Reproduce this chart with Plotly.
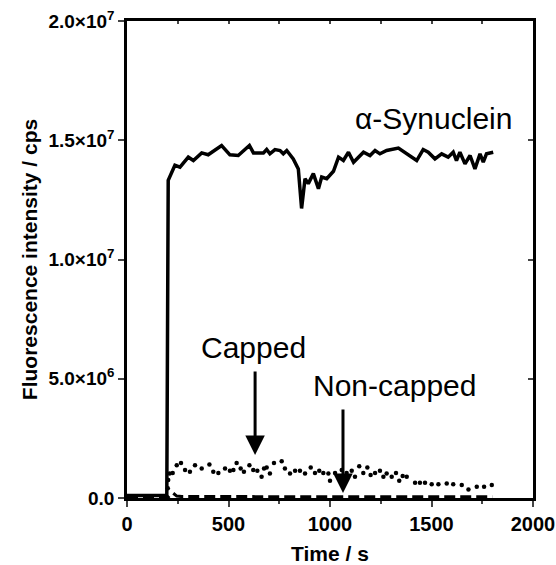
import plotly.graph_objects as go

# alpha-Synuclein (solid line), values in units of 1e6 cps
syn_t = [0, 100, 196, 203, 236, 261, 302, 327, 368, 400, 433, 466, 507, 548, 603, 623, 672, 688, 704,
         729, 754, 770, 787, 819, 844, 860, 877, 893, 918, 943, 959, 984, 1017, 1042, 1066, 1091, 1116,
         1140, 1165, 1197, 1222, 1246, 1279, 1337, 1377, 1427, 1459, 1484, 1517, 1550, 1582, 1607, 1623,
         1640, 1665, 1690, 1714, 1739, 1755, 1771, 1804]
syn_v = [0.1, 0.1, 0.1, 13.32, 13.95, 13.87, 14.29, 14.15, 14.47, 14.39, 14.57, 14.78, 14.39, 14.36,
         14.78, 14.47, 14.47, 14.61, 14.43, 14.61, 14.57, 14.43, 14.57, 14.22, 13.8, 12.14, 13.39, 13.18,
         13.6, 12.97, 13.46, 13.39, 13.7, 14.29, 14.15, 14.5, 14.08, 14.29, 14.5, 14.36, 14.57, 14.43,
         14.57, 14.67, 14.43, 14.15, 14.61, 14.5, 14.22, 14.43, 14.29, 14.5, 14.15, 14.5, 14.01, 14.36,
         13.8, 14.43, 14.08, 14.43, 14.5]

# Capped (dotted)
cap_t = [201, 203, 210, 225, 245, 266, 286, 310, 335, 368, 406, 425, 450, 483, 507, 524, 540, 560, 576,
         603, 622, 642, 663, 675, 688, 704, 724, 762, 778, 803, 828, 852, 877, 905, 926, 947, 967, 992,
         1000, 1025, 1058, 1082, 1107, 1123, 1144, 1164, 1184, 1200, 1222, 1246, 1263, 1279, 1304, 1325,
         1341, 1358, 1378, 1419, 1443, 1468, 1501, 1534, 1575, 1607, 1649, 1682, 1723, 1759, 1797]
cap_v = [0.41, 0.75, 1.03, 1.05, 1.375, 1.47, 1.17, 1.1, 1.375, 1.24, 1.4, 1.1, 1.05, 1.24, 1.14, 1.17,
         1.47, 1.24, 1.1, 1.375, 1.17, 1.14, 0.89, 1.24, 1.28, 1.03, 1.47, 1.54, 1.24, 1.03, 1.14, 1.14,
         1.03, 1.28, 1.05, 1.14, 1.05, 1.03, 0.72, 1.05, 1.17, 1.05, 1.14, 0.89, 1.33, 1.05, 1.28, 0.96,
         1.05, 1.14, 0.89, 1.03, 0.89, 1.05, 0.72, 0.92, 0.89, 0.64, 0.64, 0.64, 0.58, 0.58, 0.61, 0.58,
         0.54, 0.36, 0.47, 0.47, 0.54]

# Non-capped (dashed)
nc_t = [0, 196, 205, 215, 228, 245, 270, 350, 450, 550, 650, 750, 850, 950, 1050, 1150, 1250, 1350,
        1450, 1550, 1650, 1750, 1800]
nc_v = [0.0, 0.0, 0.05, 0.15, 0.2, 0.08, 0.06, 0.06, 0.05, 0.06, 0.05, 0.06, 0.05, 0.06, 0.05, 0.06,
        0.05, 0.06, 0.05, 0.06, 0.05, 0.06, 0.05]

y_tickvals = [0, 5e6, 1e7, 1.5e7, 2e7]
y_ticktext = ["0.0", "5.0×10<sup>6</sup>", "1.0×10<sup>7</sup>", "1.5×10<sup>7</sup>", "2.0×10<sup>7</sup>"]
x_tickvals = [0, 500, 1000, 1500, 2000]

M = 1e6
FONT = "Liberation Sans, Arial, sans-serif"

fig = go.Figure()
fig.add_trace(go.Scatter(x=nc_t, y=[v * M for v in nc_v], mode="lines",
                         line=dict(color="black", width=3, dash="11px,5px"), showlegend=False))
fig.add_trace(go.Scatter(x=cap_t, y=[v * M for v in cap_v], mode="markers",
                         marker=dict(color="black", size=4.5), showlegend=False))
fig.add_trace(go.Scatter(x=syn_t, y=[v * M for v in syn_v], mode="lines",
                         line=dict(color="black", width=3.5), showlegend=False))
# invisible trace to activate secondary axes
fig.add_trace(go.Scatter(x=[0], y=[0], xaxis="x2", yaxis="y2", mode="markers",
                         marker=dict(opacity=0), showlegend=False, hoverinfo="skip"))

fig.update_layout(
    width=556, height=565,
    margin=dict(l=127, r=23, t=21, b=67, autoexpand=False),
    paper_bgcolor="white", plot_bgcolor="white",
    font=dict(family=FONT, color="black"),
    xaxis=dict(range=[0, 2000], tickvals=x_tickvals, ticks="outside", ticklen=6, tickwidth=2,
               showline=True, linewidth=2.5, linecolor="black", showgrid=False, zeroline=False,
               automargin=False,
               tickfont=dict(size=20, family=FONT, weight="bold"),
               minor=dict(dtick=250, ticks="outside", ticklen=3, tickwidth=2, showgrid=False),
               title=dict(text="<b>Time / s</b>", font=dict(size=21), standoff=14)),
    yaxis=dict(range=[0, 2e7], tickvals=y_tickvals, ticktext=y_ticktext, ticks="outside", ticklen=6,
               tickwidth=2, showline=True, linewidth=2.5, linecolor="black", showgrid=False,
               zeroline=False, automargin=False, tickfont=dict(size=19, family=FONT, weight="bold"),
               title=dict(text="<b>Fluorescence intensity / cps</b>", font=dict(size=21), standoff=6)),
    xaxis2=dict(range=[0, 2000], overlaying="x", side="top", dtick=250, ticks="inside", ticklen=3,
                tickwidth=2, showline=True, linewidth=2.5, linecolor="black", showgrid=False,
                zeroline=False, showticklabels=False, automargin=False),
    yaxis2=dict(range=[0, 2e7], overlaying="y", side="right", dtick=5e6, ticks="inside", ticklen=5,
                tickwidth=2, showline=True, linewidth=2.5, linecolor="black", showgrid=False,
                zeroline=False, showticklabels=False, automargin=False),
)

ann_font = dict(family=FONT, size=30, color="black")
fig.add_annotation(x=1512, y=15.9e6, text="α-Synuclein", showarrow=False, font=ann_font,
                   xanchor="center", yanchor="middle")
fig.add_annotation(x=621, y=6.33e6, text="Capped", showarrow=False, font=ann_font,
                   xanchor="center", yanchor="middle")
fig.add_annotation(x=1318, y=4.70e6, text="Non-capped", showarrow=False, font=ann_font,
                   xanchor="center", yanchor="middle")
fig.add_annotation(x=631, y=1.8e6, ax=631, ay=5.37e6, axref="x", ayref="y", text="", showarrow=True,
                   arrowhead=2, arrowsize=1.3, arrowwidth=3, arrowcolor="black")
fig.add_annotation(x=1064, y=0.21e6, ax=1064, ay=3.77e6, axref="x", ayref="y", text="", showarrow=True,
                   arrowhead=2, arrowsize=1.3, arrowwidth=3, arrowcolor="black")

fig.write_html("out.html", config={"displayModeBar": False},
               post_script="document.body.style.margin='0';document.body.style.overflow='hidden';")
